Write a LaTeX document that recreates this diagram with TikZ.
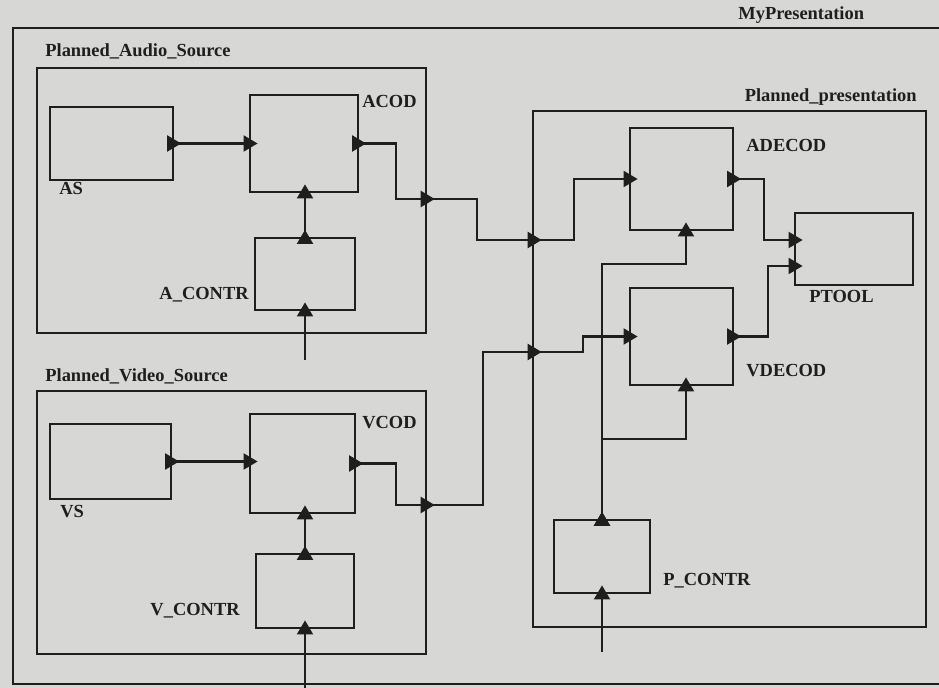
\documentclass[tikz,border=0pt]{standalone}
\usepackage{fontspec}
\setmainfont{Liberation Serif}
\usepackage{tikz}
\usetikzlibrary{arrows.meta, positioning, fit}
\definecolor{scanGray}{RGB}{215, 215, 213}
\definecolor{inkBlack}{RGB}{30, 30, 30}

\begin{document}
\begin{tikzpicture}[x=0.02cm, y=-0.02cm,
  blk/.style={rectangle, draw=inkBlack, line width=1.3pt, inner sep=0pt},
  lbl/.style={font=\fontsize{10.5}{12}\selectfont\bfseries, text=inkBlack,
              inner sep=0pt, anchor=base west},
  wire/.style={line width=1.5pt, draw=inkBlack,
               -{Triangle[length=8pt, width=9pt]}, shorten >=-5pt},
  owire/.style={wire, {Triangle[reversed, length=8pt, width=9pt]}-{Triangle[length=8pt, width=9pt]},
                shorten <=-4pt},
]
  \path[use as bounding box, fill=scanGray] (0,0) rectangle (939,688);

  % outer component
  \node[blk, fit={(13,28) (990,684)}] (MyPres) {};
  \node[lbl] (MyPres-l) at (738,20) {MyPresentation};

  % audio source
  \node[blk, fit={(37,68) (426,333)}] (PAS) {};
  \node[lbl] (PAS-l) at (45,57) {Planned\_Audio\_Source};
  \node[blk, fit={(50,107) (173,180)}] (AS) {};
  \node[lbl] (AS-l) at (59,195) {AS};
  \node[blk, fit={(250,95) (358,192)}] (ACOD) {};
  \node[lbl] (ACOD-l) at (362,108) {ACOD};
  \node[blk, fit={(255,238) (355,310)}] (ACONTR) {};
  \node[lbl, anchor=base east] (ACONTR-l) at (249,300) {A\_CONTR};

  % video source
  \node[blk, fit={(37,391) (426,654)}] (PVS) {};
  \node[lbl] (PVS-l) at (45,382) {Planned\_Video\_Source};
  \node[blk, fit={(50,424) (171,499)}] (VS) {};
  \node[lbl] (VS-l) at (60,518) {VS};
  \node[blk, fit={(250,414) (355,513)}] (VCOD) {};
  \node[lbl] (VCOD-l) at (362,429) {VCOD};
  \node[blk, fit={(256,554) (354,628)}] (VCONTR) {};
  \node[lbl, anchor=base east] (VCONTR-l) at (240,615) {V\_CONTR};

  % presentation
  \node[blk, fit={(533,111) (926,627)}] (PP) {};
  \node[lbl, anchor=base east] (PP-l) at (917,102) {Planned\_presentation};
  \node[blk, fit={(630,128) (733,230)}] (ADECOD) {};
  \node[lbl] (ADECOD-l) at (746,152) {ADECOD};
  \node[blk, fit={(630,288) (733,385)}] (VDECOD) {};
  \node[lbl] (VDECOD-l) at (746,377) {VDECOD};
  \node[blk, fit={(795,213) (913,285)}] (PTOOL) {};
  \node[lbl] (PTOOL-l) at (809,303) {PTOOL};
  \node[blk, fit={(554,520) (650,593)}] (PCONTR) {};
  \node[lbl] (PCONTR-l) at (663,585) {P\_CONTR};

  % ports on the borders and free ends
  \coordinate (ain) at (305,360);
  \coordinate (vin) at (305,688);
  \coordinate (pin) at (602,652);
  \coordinate (aport) at (426,199);
  \coordinate (vport) at (426,505);
  \coordinate (ppa) at (533,240);
  \coordinate (ppv) at (533,352);

  % connectors
  \draw[owire] (AS.east) -- (AS.east -| ACOD.west);
  \draw[owire] (ACONTR.north) -- (ACONTR.north |- ACOD.south);
  \draw[wire] (ain) -- (ACONTR.south);
  \draw[owire] (ACOD.east) -- ++(37,0) |- (aport);
  \draw[wire] (aport) -- ++(51,0) |- (ppa);
  \draw[wire] (ppa) -- ++(41,0) |- (ADECOD.west);

  \draw[owire] (VS.east) -- (VS.east -| VCOD.west);
  \draw[owire] (VCONTR.north) -- (VCONTR.north |- VCOD.south);
  \draw[wire] (vin) -- (VCONTR.south);
  \draw[owire] (VCOD.east) -- ++(40,0) |- (vport);
  \draw[wire] (vport) -- ++(57,0) |- (ppv);
  \draw[wire] (ppv) -- ++(50,0) |- (VDECOD.west);

  \draw[owire] (ADECOD.east) -- ++(30,0) |- ([yshift=0.18cm]PTOOL.west);
  \draw[owire] (VDECOD.east) -- ++(34,0) |- ([yshift=-0.34cm]PTOOL.west);
  \draw[owire] (PCONTR.north) -- ++(0,-255) -| ([xshift=0.09cm]ADECOD.south);
  \draw[owire] (PCONTR.north) -- ++(0,-80) -| ([xshift=0.09cm]VDECOD.south);
  \draw[wire] (pin) -- (PCONTR.south);
\end{tikzpicture}
\end{document}
